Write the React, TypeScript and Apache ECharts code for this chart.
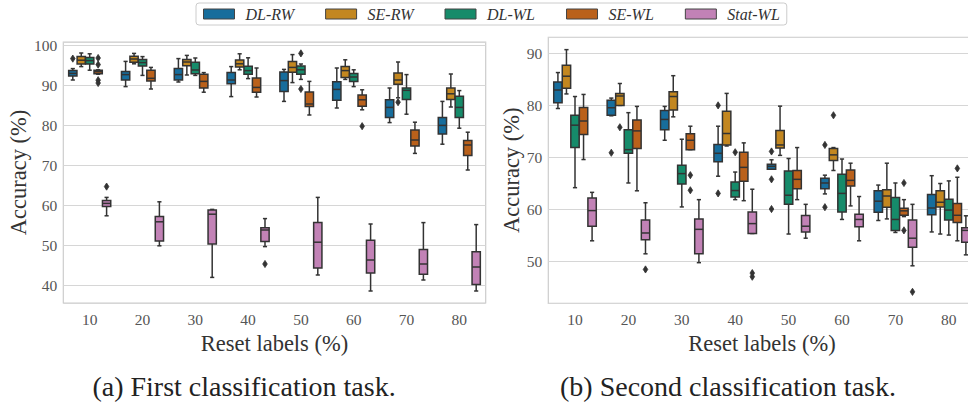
import React, { useEffect, useRef } from "react";
import * as echarts from "echarts";

const categories = ["10", "20", "30", "40", "50", "60", "70", "80"];
const seriesNames = ["DL-RW", "SE-RW", "DL-WL", "SE-WL", "Stat-WL"];
const palette = ["#176d9c", "#c38720", "#168b6a", "#ba611b", "#c282b6"];

// [low whisker, Q1, median, Q3, high whisker] per reset-label category
const aDLRW = [
  [91.25, 92.25, 92.9, 93.6, 94.1],
  [89.6, 91.25, 92.6, 93.4, 95.9],
  [90.75, 91.25, 92.6, 94.1, 96.6],
  [87.1, 90.3, 91.25, 93.1, 94.6],
  [85.9, 88.4, 91.1, 93.25, 93.9],
  [84.25, 86.2, 88.9, 90.8, 94.25],
  [80.6, 81.9, 84.4, 86.3, 89.25],
  [75.2, 77.75, 79.9, 81.9, 85.9],
];
const aSERW = [
  [94.6, 95.25, 96.2, 97.1, 98.0],
  [95.3, 95.7, 96.5, 97.2, 97.9],
  [92.5, 94.8, 95.75, 96.4, 97.4],
  [93.8, 94.5, 95.3, 96.25, 97.8],
  [90.6, 93.2, 94.4, 95.9, 97.6],
  [91.4, 91.9, 93.6, 94.6, 96.3],
  [86.8, 90.2, 91.25, 93.0, 95.75],
  [84.5, 86.4, 87.8, 89.25, 92.75],
];
const aDLWL = [
  [93.7, 95.25, 96.1, 96.9, 97.8],
  [92.4, 94.75, 95.6, 96.4, 97.1],
  [92.4, 92.8, 93.75, 95.7, 96.75],
  [91.6, 92.67, 93.6, 94.67, 96.8],
  [91.4, 92.67, 93.8, 94.75, 95.25],
  [89.6, 90.9, 92.0, 92.9, 93.8],
  [82.7, 86.4, 88.67, 89.25, 92.6],
  [79.2, 81.9, 84.4, 87.2, 88.6],
];
const aSEWL = [
  [92.7, 92.83, 93.33, 93.67, 93.8],
  [89.0, 91.0, 91.67, 93.67, 94.4],
  [88.2, 89.25, 90.9, 92.67, 93.1],
  [87.0, 88.2, 89.4, 91.75, 94.25],
  [82.5, 84.6, 85.25, 88.25, 90.9],
  [83.8, 84.67, 86.3, 87.5, 88.8],
  [72.9, 74.75, 76.25, 78.75, 80.7],
  [68.75, 72.4, 75.0, 76.1, 78.2],
];
const aStatWL = [
  [57.3, 59.6, 60.4, 61.1, 61.9],
  [49.8, 51.0, 55.8, 57.1, 60.8],
  [41.9, 50.25, 57.7, 58.75, 58.9],
  [49.6, 50.9, 53.75, 54.3, 56.6],
  [42.5, 44.25, 50.7, 55.6, 61.9],
  [38.5, 43.0, 46.25, 51.2, 55.25],
  [41.25, 42.7, 45.25, 48.9, 55.6],
  [38.5, 40.1, 44.5, 48.3, 55.1],
];
// [series index, category index, value]
const aOutliers = [
  [0, 0, 96.6], [3, 0, 96.75], [3, 0, 95.1], [3, 0, 91.2], [3, 0, 90.5],
  [4, 0, 64.6], [4, 3, 45.25], [2, 4, 97.9], [2, 4, 89.0], [3, 5, 79.7],
  [1, 6, 85.7],
];

const bDLRW = [
  [79.4, 80.5, 82.95, 84.5, 86.3],
  [78.0, 78.1, 79.55, 81.0, 81.4],
  [73.3, 75.3, 77.3, 79.0, 79.8],
  [66.4, 69.2, 70.8, 72.5, 76.0],
  [67.75, 67.75, 68.3, 68.7, 69.55],
  [63.0, 64.0, 65.1, 66.0, 66.6],
  [57.9, 59.5, 61.6, 63.6, 64.7],
  [55.7, 59.0, 60.3, 62.9, 66.5],
];
const bSERW = [
  [82.2, 83.3, 85.6, 87.7, 90.7],
  [80.0, 80.0, 81.8, 82.3, 84.2],
  [77.8, 79.1, 81.7, 82.6, 85.7],
  [72.2, 72.4, 74.6, 78.85, 82.3],
  [70.4, 71.8, 72.4, 75.2, 79.85],
  [67.5, 69.4, 70.5, 71.7, 71.9],
  [58.2, 60.45, 62.6, 63.8, 68.9],
  [55.3, 60.5, 61.4, 63.6, 65.0],
];
const bDLWL = [
  [64.2, 71.9, 76.2, 78.1, 81.7],
  [65.1, 70.8, 71.5, 75.3, 78.6],
  [60.5, 64.9, 66.9, 68.5, 73.5],
  [61.9, 62.4, 63.65, 65.3, 67.2],
  [55.3, 61.0, 62.75, 67.4, 69.8],
  [58.1, 59.55, 63.1, 66.8, 69.7],
  [55.6, 56.0, 58.1, 62.3, 65.1],
  [55.1, 58.0, 59.9, 62.0, 65.5],
];
const bSEWL = [
  [69.6, 74.4, 77.0, 79.6, 82.1],
  [63.6, 71.7, 75.1, 77.2, 79.8],
  [71.5, 71.5, 73.3, 74.55, 76.0],
  [61.7, 65.45, 68.1, 71.0, 72.8],
  [61.9, 64.0, 65.8, 67.5, 71.9],
  [60.7, 64.5, 65.6, 67.6, 68.9],
  [58.65, 58.9, 59.75, 60.25, 61.9],
  [54.0, 57.5, 58.9, 61.15, 66.2],
];
const bStatWL = [
  [54.0, 56.8, 59.8, 62.2, 63.3],
  [51.5, 54.2, 55.5, 58.0, 61.3],
  [49.8, 51.5, 56.2, 58.2, 61.9],
  [55.4, 55.4, 57.3, 59.55, 63.9],
  [54.5, 55.7, 56.8, 58.85, 61.0],
  [54.0, 56.7, 58.1, 59.1, 62.5],
  [49.2, 52.75, 54.5, 58.0, 61.0],
  [51.3, 53.7, 56.0, 56.5, 58.8],
];
const bOutliers = [
  [0, 1, 70.9], [1, 1, 75.8], [4, 1, 48.5], [3, 2, 66.6], [3, 2, 63.7],
  [0, 3, 80.0], [0, 3, 63.1], [2, 3, 71.0], [4, 3, 47.8], [4, 3, 47.1],
  [0, 4, 71.15], [0, 4, 65.8], [0, 4, 60.1], [0, 5, 72.4], [0, 5, 60.45],
  [1, 5, 78.1], [3, 6, 65.1], [3, 6, 56.0], [4, 6, 44.2], [3, 7, 67.9],
];

const GRAY = "#333333";
const SERIF = "'Liberation Serif', 'DejaVu Serif', serif";

function boxSeries(name: string, color: string, k: number, data: number[][], g: number) {
  return {
    type: "custom",
    name,
    xAxisIndex: g,
    yAxisIndex: g,
    color,
    itemStyle: { color },
    data: data.map((d, i) => [i, ...d]),
    encode: { x: 0, y: [1, 2, 3, 4, 5] },
    renderItem: (params: any, api: any) => {
      const ci = api.value(0);
      const band = api.size([1, 0])[0];
      const cx = api.coord([ci, api.value(3)])[0] + (k - 2) * band * 0.16;
      const w = band * 0.16 * 0.98;
      const cw = w / 2;
      const y = (v: number) => api.coord([ci, v])[1];
      const lo = y(api.value(1));
      const q1 = y(api.value(2));
      const md = y(api.value(3));
      const q3 = y(api.value(4));
      const hi = y(api.value(5));
      const ls = { stroke: GRAY, lineWidth: 1.5 };
      return {
        type: "group",
        children: [
          { type: "line", shape: { x1: cx, y1: q1, x2: cx, y2: lo }, style: ls },
          { type: "line", shape: { x1: cx, y1: q3, x2: cx, y2: hi }, style: ls },
          { type: "line", shape: { x1: cx - cw / 2, y1: lo, x2: cx + cw / 2, y2: lo }, style: ls },
          { type: "line", shape: { x1: cx - cw / 2, y1: hi, x2: cx + cw / 2, y2: hi }, style: ls },
          {
            type: "rect",
            shape: { x: cx - w / 2, y: q3, width: w, height: Math.max(q1 - q3, 0.5) },
            style: { fill: color, stroke: GRAY, lineWidth: 1.5 },
          },
          { type: "line", shape: { x1: cx - w / 2, y1: md, x2: cx + w / 2, y2: md }, style: ls },
        ],
      };
    },
  };
}

function outlierSeries(data: number[][], g: number) {
  return {
    type: "custom",
    name: "outliers",
    xAxisIndex: g,
    yAxisIndex: g,
    data,
    encode: { x: 1, y: 2 },
    renderItem: (params: any, api: any) => {
      const k = api.value(0);
      const ci = api.value(1);
      const band = api.size([1, 0])[0];
      const p = api.coord([ci, api.value(2)]);
      const cx = p[0] + (k - 2) * band * 0.16;
      const cy = p[1];
      return {
        type: "polygon",
        shape: { points: [[cx, cy - 3.6], [cx + 2.3, cy], [cx, cy + 3.6], [cx - 2.3, cy]] },
        style: { fill: GRAY, stroke: GRAY, lineWidth: 0.8 },
      };
    },
  };
}

const aSets = [aDLRW, aSERW, aDLWL, aSEWL, aStatWL];
const bSets = [bDLRW, bSERW, bDLWL, bSEWL, bStatWL];

function xAxisCfg(g: number) {
  return {
    type: "category",
    gridIndex: g,
    data: categories,
    axisLine: { show: false },
    axisTick: { show: false },
    axisLabel: { color: "#555", fontSize: 15.5, fontFamily: SERIF, margin: 8 },
    splitLine: { show: false },
    name: "Reset labels (%)",
    nameLocation: "middle",
    nameGap: 23,
    nameTextStyle: { color: "#333", fontSize: 22.5, fontFamily: SERIF },
  };
}

function yAxisCfg(g: number, min: number, max: number, gap: number) {
  return {
    type: "value",
    gridIndex: g,
    min,
    max,
    splitNumber: 5,
    axisLine: { show: false },
    axisTick: { show: false },
    axisLabel: {
      color: "#555",
      fontSize: 15.5,
      fontFamily: SERIF,
      margin: 6,
      showMinLabel: false,
      showMaxLabel: false,
    },
    splitLine: { show: true, lineStyle: { color: "#d6d6d6", width: 1 } },
    name: "Accuracy (%)",
    nameLocation: "middle",
    nameGap: gap,
    nameTextStyle: { color: "#333", fontSize: 22.5, fontFamily: SERIF },
  };
}

export default function App() {
  const ref = useRef<HTMLDivElement>(null);
  useEffect(() => {
    if (!ref.current) return;
    const chart = echarts.init(ref.current, undefined, { renderer: "svg" });
    const series: any[] = [];
    aSets.forEach((d, k) => series.push(boxSeries(seriesNames[k], palette[k], k, d, 0)));
    series.push(outlierSeries(aOutliers, 0));
    bSets.forEach((d, k) => series.push(boxSeries(seriesNames[k], palette[k], k, d, 1)));
    series.push(outlierSeries(bOutliers, 1));
    chart.setOption({
      animation: false,
      backgroundColor: "#ffffff",
      legend: {
        data: seriesNames.map((n, i) => ({
          name: n,
          icon: "rect",
          itemStyle: { color: palette[i], borderColor: "#444", borderWidth: 1 },
        })),
        left: 196,
        top: 3,
        padding: [3, 7],
        itemWidth: 31,
        itemHeight: 10,
        itemGap: 31,
        borderColor: "#cccccc",
        borderWidth: 1,
        borderRadius: 3,
        selectedMode: false,
        textStyle: {
          fontFamily: SERIF,
          fontStyle: "italic",
          fontSize: 16,
          color: "#333",
          padding: [0, 0, 0, 6],
        },
      },
      grid: [
        {
          left: 63.3, top: 42, width: 422.4, height: 261,
          show: true, borderColor: "#cccccc", borderWidth: 1.2, backgroundColor: "transparent",
        },
        {
          left: 548.3, top: 37.3, width: 427.2, height: 266,
          show: true, borderColor: "#cccccc", borderWidth: 1.2, backgroundColor: "transparent",
        },
      ],
      xAxis: [xAxisCfg(0), xAxisCfg(1)],
      yAxis: [yAxisCfg(0, 35.5, 100.75, 33), yAxisCfg(1, 42, 93.07, 24)],
      series,
      graphic: [
        {
          type: "text",
          x: 244,
          y: 386,
          style: {
            text: "(a) First classification task.",
            font: "28px " + SERIF,
            fill: "#222",
            textAlign: "center",
            textVerticalAlign: "middle",
          },
        },
        {
          type: "text",
          x: 728,
          y: 386,
          style: {
            text: "(b) Second classification task.",
            font: "28px " + SERIF,
            fill: "#222",
            textAlign: "center",
            textVerticalAlign: "middle",
          },
        },
      ],
    });
    return () => chart.dispose();
  }, []);
  return (
    <div
      style={{ position: "fixed", left: 0, top: 0, width: 968, height: 409, overflow: "hidden", background: "#fff" }}
    >
      <div ref={ref} style={{ width: 990, height: 409 }} />
    </div>
  );
}
